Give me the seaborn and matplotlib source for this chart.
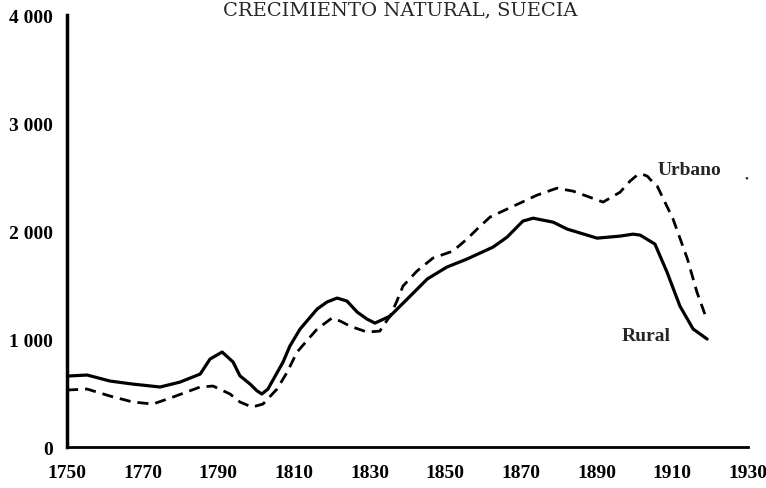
import matplotlib
matplotlib.use("Agg")
import matplotlib.pyplot as plt
import seaborn as sns

# data
rural_years = [1750, 1755.3, 1761.4, 1767.4, 1774.6, 1779.9, 1785.2, 1787.8, 1791.0,
               1793.9, 1795.7, 1798.4, 1800.2, 1801.5, 1803.1, 1807.1, 1808.9, 1811.6,
               1816.1, 1818.7, 1821.4, 1824.0, 1826.7, 1829.3, 1831.4, 1835.4, 1840.7,
               1845.2, 1850.4, 1855.7, 1862.6, 1866.3, 1870.5, 1873.2, 1878.5, 1882.2,
               1890.1, 1896.2, 1899.6, 1901.5, 1905.4, 1908.6, 1912.0, 1915.5, 1919.2]
rural_vals = [657, 667, 611, 583, 556, 602, 676, 815, 880,
              787, 660, 583, 521, 491, 537, 787, 935, 1093,
              1278, 1343, 1380, 1352, 1250, 1185, 1148, 1213, 1398,
              1556, 1667, 1741, 1852, 1944, 2093, 2120, 2083, 2019,
              1935, 1954, 1972, 1963, 1880, 1620, 1306, 1093, 1000]

urban_years = [1750, 1755.3, 1761.4, 1767.4, 1772.7, 1778.0, 1785.2, 1788.6, 1793.1,
               1795.7, 1798.9, 1801.8, 1805.5, 1808.2, 1810.8, 1816.1, 1820.0, 1822.2,
               1824.8, 1829.3, 1832.7, 1833.5, 1835.4, 1837.2, 1838.8, 1842.5, 1846.7,
               1852.0, 1855.7, 1858.4, 1861.8, 1866.3, 1869.7, 1874.2, 1879.5, 1883.8,
               1891.7, 1896.2, 1898.8, 1900.7, 1902.0, 1903.4, 1904.1, 1906.0, 1910.2,
               1914.0, 1916.5, 1918.6]
urban_vals = [528, 537, 472, 417, 398, 463, 556, 565, 491,
              417, 370, 398, 537, 694, 880, 1093, 1194, 1167,
              1120, 1065, 1074, 1120, 1213, 1352, 1491, 1630, 1750,
              1815, 1926, 2019, 2130, 2204, 2259, 2333, 2398, 2370,
              2269, 2361, 2463, 2519, 2528, 2509, 2481, 2417, 2111,
              1741, 1435, 1231]

x_ticks = [1750, 1770, 1790, 1810, 1830, 1850, 1870, 1890, 1910, 1930]
y_ticks = [0, 1000, 2000, 3000, 4000]
y_labels = ["0", "1 000", "2 000", "3 000", "4 000"]

sns.set_style("white")
plt.rcParams["font.family"] = ["Liberation Serif", "DejaVu Serif"]

fig = plt.figure(figsize=(7.66, 4.89), dpi=100)
ax = fig.add_axes([0.0875, 0.0838, 0.889, 0.883])

sns.lineplot(x=rural_years, y=rural_vals, color="black", linewidth=2.3, ax=ax)
sns.lineplot(x=urban_years, y=urban_vals, color="black", linewidth=2.0,
             linestyle=(0, (4, 2.5)), ax=ax)

ax.set_xlim(1750, 1930)
ax.set_ylim(0, 4000)
ax.set_xticks(x_ticks)
ax.set_yticks(y_ticks)
ax.set_yticklabels(y_labels)

for s in ["top", "right"]:
    ax.spines[s].set_visible(False)
ax.spines["left"].set_linewidth(2.5)
ax.spines["bottom"].set_linewidth(2.0)
for s in ["left", "bottom"]:
    ax.spines[s].set_color("black")

ax.tick_params(axis="x", direction="inout", length=10, width=2, pad=7,
               labelsize=14, colors="black")
ax.tick_params(axis="y", direction="inout", length=10, width=2.5, pad=5,
               labelsize=14, colors="black")
for lab in ax.get_xticklabels() + ax.get_yticklabels():
    lab.set_fontweight("bold")

ax.text(1906, 2574, "Urbano", fontsize=14, fontweight="bold", va="center", ha="left")
ax.text(1896.7, 1037, "Rural", fontsize=14, fontweight="bold", va="center", ha="left")
ax.text(1929.5, 2490, "•", fontsize=8, va="center", ha="center")

fig.text(0.523, 1 - 15 / 489, "CRECIMIENTO NATURAL, SUECIA", fontsize=14,
         family="DejaVu Serif", ha="center", va="baseline")

fig.savefig("out.png", dpi=100)
